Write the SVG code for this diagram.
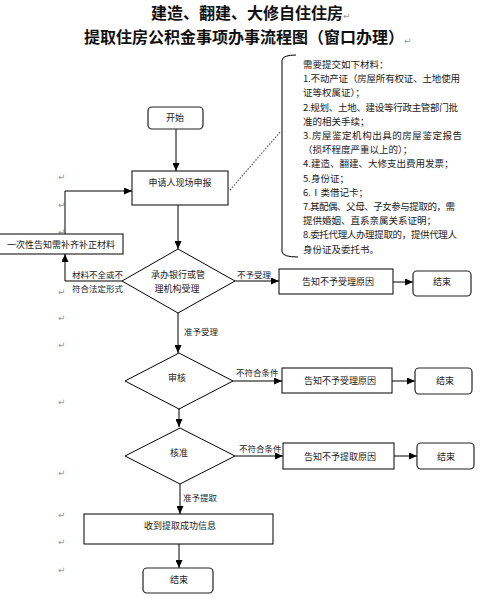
<svg xmlns="http://www.w3.org/2000/svg" width="485" height="609" viewBox="0 0 485 609">
<style>
.t{font-family:"Noto Sans CJK SC","Noto Sans",sans-serif;fill:#1a1a1a;font-size:9px}
.ttl{font-family:"Noto Sans CJK SC","Noto Sans",sans-serif;fill:#111;font-size:16px;font-weight:bold;text-anchor:middle}
.m{font-family:"Noto Sans CJK SC","Noto Sans",sans-serif;fill:#1a1a1a;font-size:9.5px}
.c{text-anchor:middle}
.box{fill:#fff;stroke:#000;stroke-width:1}
.rbox{fill:#fff;stroke:#222;stroke-width:1.2}
.ln{fill:none;stroke:#000;stroke-width:1}
.pm{font-family:"DejaVu Sans",sans-serif;fill:#999;font-size:9px}
</style>
<defs>
<marker id="ah" markerUnits="userSpaceOnUse" markerWidth="8" markerHeight="7" refX="8" refY="3.5" orient="auto">
<path d="M0,0 L8,3.5 L0,7 z" fill="#000"/>
</marker>
</defs>
<rect width="485" height="609" fill="#fff"/>

<g id="title">
<text class="ttl" x="247" y="18.5">建造、翻建、大修自住住房</text>
<text class="ttl" x="244" y="43">提取住房公积金事项办事流程图（窗口办理）</text>
<text class="pm" x="343" y="19">↵</text>
<text class="pm" x="404" y="44">↵</text>
</g>

<g id="marks">
<text class="pm" x="58" y="180">↵</text>
<text class="pm" x="58" y="208">↵</text>
<text class="pm" x="58" y="235">↵</text>
<text class="pm" x="58" y="295">↵</text>
<text class="pm" x="58" y="321">↵</text>
<text class="pm" x="58" y="348">↵</text>
<text class="pm" x="58" y="405">↵</text>
<text class="pm" x="58" y="476">↵</text>
<text class="pm" x="58" y="518">↵</text>
<text class="pm" x="58" y="545">↵</text>
<text class="pm" x="58" y="573">↵</text>
</g>

<g id="connectors">
<line class="ln" x1="176" y1="129" x2="176" y2="171" marker-end="url(#ah)"/>
<line class="ln" x1="178" y1="205" x2="178" y2="249" marker-end="url(#ah)"/>
<polyline class="ln" points="122,281 65,281 65,254" marker-end="url(#ah)"/>
<polyline class="ln" points="65,234 65,191 132,191" marker-end="url(#ah)"/>
<line class="ln" x1="235" y1="281" x2="279" y2="281" marker-end="url(#ah)"/>
<line class="ln" x1="393" y1="282" x2="413" y2="282" marker-end="url(#ah)"/>
<line class="ln" x1="178" y1="313" x2="178" y2="353" marker-end="url(#ah)"/>
<line class="ln" x1="233" y1="381" x2="282" y2="381" marker-end="url(#ah)"/>
<line class="ln" x1="392" y1="381" x2="415" y2="381" marker-end="url(#ah)"/>
<line class="ln" x1="179" y1="409" x2="179" y2="427" marker-end="url(#ah)"/>
<line class="ln" x1="235" y1="456" x2="283" y2="456" marker-end="url(#ah)"/>
<line class="ln" x1="394" y1="456" x2="417" y2="456" marker-end="url(#ah)"/>
<line class="ln" x1="180" y1="484" x2="180" y2="514" marker-end="url(#ah)"/>
<line class="ln" x1="179" y1="544" x2="179" y2="568" marker-end="url(#ah)"/>
<line x1="230" y1="190" x2="281" y2="131" stroke="#555" stroke-width="1.2" stroke-dasharray="1.5,1.5"/>
<text class="t" x="72" y="278" style="font-size:8.5px">材料不全或不</text>
<text class="t" x="72" y="292" style="font-size:8.5px">符合法定形式</text>
<text class="t" x="237" y="278" style="font-size:8.5px">不予受理</text>
<text class="t" x="184" y="335" style="font-size:8.5px">准予受理</text>
<text class="t" x="236" y="376" style="font-size:8.5px">不符合条件</text>
<text class="t" x="239" y="452" style="font-size:8.5px">不符合条件</text>
<text class="t" x="183" y="501" style="font-size:8.5px">准予提取</text>
</g>

<g id="materials">
<path class="ln" d="M296,55 Q283,55 282,60 L282,252 Q283,257 298,257" stroke="#333"/>
<text class="m" x="303" y="68">需要提交如下材料：</text>
<text class="m" x="303" y="82" textLength="157" lengthAdjust="spacing">1.不动产证（房屋所有权证、土地使用</text>
<text class="m" x="303" y="96">证等权属证）；</text>
<text class="m" x="303" y="111" textLength="155" lengthAdjust="spacing">2.规划、土地、建设等行政主管部门批</text>
<text class="m" x="303" y="125">准的相关手续；</text>
<text class="m" x="303" y="139" textLength="159" lengthAdjust="spacing">3.房屋鉴定机构出具的房屋鉴定报告</text>
<text class="m" x="303" y="153">（损坏程度严重以上的）；</text>
<text class="m" x="303" y="167">4.建造、翻建、大修支出费用发票；</text>
<text class="m" x="303" y="182">5.身份证；</text>
<text class="m" x="303" y="196">6.Ⅰ类借记卡；</text>
<text class="m" x="303" y="210" textLength="152" lengthAdjust="spacing">7.其配偶、父母、子女参与提取的，需</text>
<text class="m" x="303" y="224">提供婚姻、直系亲属关系证明；</text>
<text class="m" x="303" y="238" textLength="154" lengthAdjust="spacing">8.委托代理人办理提取的，提供代理人</text>
<text class="m" x="303" y="253">身份证及委托书。</text>
</g>

<g id="start">
<rect class="rbox" x="148" y="107" width="55" height="22" rx="4"/>
<text class="t c" x="175" y="121">开始</text>
</g>

<g id="apply">
<rect class="box" x="132" y="171" width="96" height="34"/>
<text class="t c" x="180" y="186">申请人现场申报</text>
</g>

<g id="notice">
<rect class="box" x="-1" y="234" width="124" height="20"/>
<text class="t" x="7" y="248">一次性告知需补齐补正材料</text>
</g>

<g id="accept">
<polygon class="box" points="178,249 235,281 178,313 122,281"/>
<text class="t c" x="178" y="278">承办银行或管</text>
<text class="t c" x="177" y="292">理机构受理</text>
</g>

<g id="reject1">
<rect class="box" x="279" y="269" width="114" height="25"/>
<text class="t c" x="338" y="285">告知不予受理原因</text>
</g>
<g id="end1">
<rect class="rbox" x="413" y="271" width="58" height="25" rx="4"/>
<text class="t c" x="442" y="285">结束</text>
</g>

<g id="review">
<polygon class="box" points="179,353 233,381 179,409 125,381"/>
<text class="t c" x="177" y="381">审核</text>
</g>
<g id="reject2">
<rect class="box" x="282" y="368" width="110" height="25"/>
<text class="t c" x="340" y="384">告知不予受理原因</text>
</g>
<g id="end2">
<rect class="rbox" x="415" y="368" width="57" height="26" rx="4"/>
<text class="t c" x="445" y="384">结束</text>
</g>

<g id="approve">
<polygon class="box" points="180,428 235,456 180,484 125,456"/>
<text class="t c" x="179" y="456">核准</text>
</g>
<g id="reject3">
<rect class="box" x="283" y="443" width="111" height="26"/>
<text class="t c" x="340" y="460">告知不予提取原因</text>
</g>
<g id="end3">
<rect class="rbox" x="417" y="443" width="57" height="26" rx="4"/>
<text class="t c" x="446" y="460">结束</text>
</g>

<g id="success">
<rect class="box" x="84" y="514" width="189" height="30"/>
<text class="t c" x="180" y="529">收到提取成功信息</text>
</g>
<g id="end4">
<rect class="rbox" x="143" y="568" width="70" height="25" rx="4"/>
<text class="t c" x="179" y="583">结束</text>
</g>
</svg>
